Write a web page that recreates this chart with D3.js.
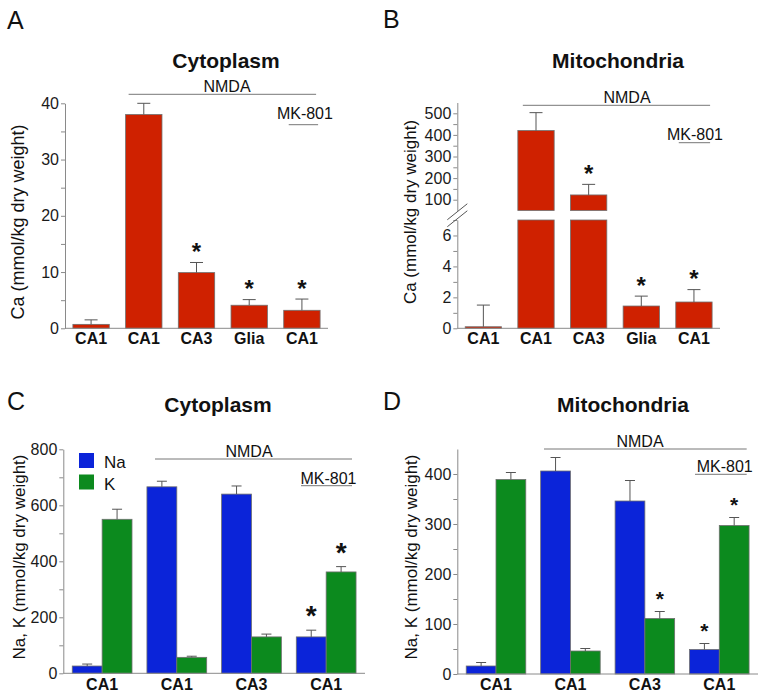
<!DOCTYPE html>
<html>
<head>
<meta charset="utf-8">
<script src="https://cdn.jsdelivr.net/npm/d3@7"></script>
<style>
  body { margin: 0; background: #fff; }
  svg { display: block; font-family: "Liberation Sans", Arial, Helvetica, sans-serif; }
  .axis path, .axis line { stroke: #8a8a8a; }
  .axis text { font-size: 16px; fill: #1a1a1a; }
</style>
</head>
<body>
<div id="chart"></div>
<script>
"use strict";

///////////////////////////////////
// data
///////////////////////////////////

const caRegions = ["CA1", "CA1", "CA3", "Glia", "CA1"];
const cytoCa = [0.7, 38.0, 9.9, 4.1, 3.2];
const cytoCaErr = [0.8, 2.0, 1.8, 1.0, 2.0];
const cytoCaSig = [0, 0, 1, 1, 1];
const mitoCa = [0.1, 420, 122, 1.44, 1.7];
const mitoCaErr = [1.4, 83, 49, 0.64, 0.8];
const mitoCaSig = [0, 0, 1, 1, 1];

const ionRegions = ["CA1", "CA1", "CA3", "CA1"];
const ions = ["Na", "K"];
const cytoNa = [26, 666, 640, 130];
const cytoNaErr = [7, 20, 29, 24];
const cytoK = [550, 57, 130, 362];
const cytoKErr = [36, 4, 10, 19];
const cytoNaSig = [0, 0, 0, 1];
const cytoKSig = [0, 0, 0, 1];
const mitoNa = [16, 406, 346, 49];
const mitoNaErr = [7, 27, 41, 12];
const mitoK = [389, 46, 111, 297];
const mitoKErr = [14, 5, 14, 16];
const mitoNaSig = [0, 0, 0, 1];
const mitoKSig = [0, 0, 1, 1];

const cytoCaTicks = [0, 10, 20, 30, 40];
const cytoCaMinor = [5, 15, 25, 35];
const mitoCaLowTicks = [0, 2, 4, 6];
const mitoCaLowMinor = [1, 3, 5, 7];
const mitoCaHighTicks = [100, 200, 300, 400, 500];
const mitoCaHighMinor = [150, 250, 350, 450];
const cytoIonTicks = [0, 200, 400, 600, 800];
const cytoIonMinor = [100, 300, 500, 700];
const mitoIonTicks = [0, 100, 200, 300, 400];
const mitoIonMinor = [50, 150, 250, 350];

const colors = { Ca: "#cf2100", Na: "#0b24d9", K: "#0c8a1e" };

///////////////////////////////////
// svg
///////////////////////////////////

const svg = d3
  .select("#chart")
  .append("svg")
  .attr("width", 765)
  .attr("height", 700);

const addText = (txt, x, y, size, opts = {}) =>
  svg
    .append("text")
    .attr("x", x)
    .attr("y", y)
    .attr("font-size", size)
    .attr("font-weight", opts.bold ? "bold" : "normal")
    .attr("text-anchor", opts.anchor || "middle")
    .attr("fill", "#111")
    .text(txt);

const addLine = (x1, x2, y) =>
  svg
    .append("line")
    .attr("x1", x1)
    .attr("x2", x2)
    .attr("y1", y)
    .attr("y2", y)
    .attr("stroke", "#777")
    .attr("stroke-width", 1);

const yAxis = (scale, x, major, minor) => {
  svg
    .append("g")
    .attr("class", "axis")
    .attr("transform", `translate(${x},0)`)
    .call(
      d3
        .axisLeft(scale)
        .tickValues(major)
        .tickFormat(d3.format("d"))
        .tickSize(4)
        .tickPadding(2)
        .tickSizeOuter(0)
    );
  svg
    .append("g")
    .attr("class", "axis")
    .attr("transform", `translate(${x},0)`)
    .call(d3.axisLeft(scale).tickValues(minor).tickSize(4).tickFormat(""))
    .select(".domain")
    .remove();
};

const yLabel = (txt, x, y, size) =>
  svg
    .append("text")
    .attr("transform", `translate(${x},${y}) rotate(-90)`)
    .attr("dy", "0.35em")
    .attr("text-anchor", "middle")
    .attr("font-size", size)
    .attr("fill", "#111")
    .text(txt);

const errBar = (cx, y0, y1, cap) => {
  svg
    .append("path")
    .attr("d", `M${cx},${y0}V${y1}M${cx - cap},${y1}H${cx + cap}`)
    .attr("stroke", "#555")
    .attr("stroke-width", 1)
    .attr("fill", "none");
};

// one bar with upward error bar and optional star
const bar = (x, w, yScale, base, value, err, color, sig, cap, star) => {
  svg
    .append("rect")
    .attr("x", x)
    .attr("y", yScale(value))
    .attr("width", w)
    .attr("height", base - yScale(value))
    .attr("fill", color)
    .attr("stroke", "#6f6f6f")
    .attr("stroke-width", 0.8);
  errBar(x + w / 2, yScale(value), yScale(value + err), cap);
  if (sig) {
    addText("*", x + w / 2, yScale(value + err) - star.gap + star.size * 0.57, star.size, {
      bold: true,
    });
  }
};

const xBase = (x0, x1, y) =>
  svg
    .append("line")
    .attr("x1", x0)
    .attr("x2", x1)
    .attr("y1", y)
    .attr("y2", y)
    .attr("stroke", "#8a8a8a");

///////////////////////////////////
// A: cytoplasm Ca
///////////////////////////////////

{
  const x = d3.scaleBand().domain(d3.range(caRegions.length)).range([65, 328])
    .paddingInner(0.31).paddingOuter(0.15);
  const y = d3.scaleLinear().domain([0, 40]).range([328.3, 103.3]);
  const bw = x.bandwidth();

  addText("A", 7, 29, 25, { anchor: "start" });
  addText("Cytoplasm", 226, 68, 21, { bold: true });

  cytoCa.forEach((v, i) =>
    bar(x(i), bw, y, y(0), v, cytoCaErr[i], colors.Ca, cytoCaSig[i], 6.5, { size: 24, gap: 16 })
  );
  yAxis(y, 65, cytoCaTicks, cytoCaMinor);
  xBase(65, 328, y(0));

  caRegions.forEach((r, i) => addText(r, x(i) + bw / 2, 344, 16, { bold: true }));
  yLabel("Ca (mmol/kg dry weight)", 17.5, 222, 18);

  addLine(x(1) + 3, x(4) + bw - 4, 94.3);
  addText("NMDA", 227, 92.3, 16);
  addText("MK-801", x(4) + bw / 2 + 3, 119, 16);
  addLine(x(4) + 5, x(4) + bw - 2, 124.7);
}

///////////////////////////////////
// B: mitochondria Ca (broken axis)
///////////////////////////////////

{
  const x = d3.scaleBand().domain(d3.range(caRegions.length)).range([457.3, 720])
    .paddingInner(0.31).paddingOuter(0.15);
  const yLow = d3.scaleLinear().domain([0, 7]).range([328.3, 220]);
  const yHigh = d3.scaleLinear().domain([50, 550]).range([210.5, 102.5]);
  const bw = x.bandwidth();
  const limit = 7;

  addText("B", 383, 28, 25, { anchor: "start" });
  addText("Mitochondria", 618, 68, 21, { bold: true });

  mitoCa.forEach((v, i) => {
    const star = { size: 24, gap: 16 };
    if (v <= limit) {
      bar(x(i), bw, yLow, yLow(0), v, mitoCaErr[i], colors.Ca, mitoCaSig[i], 6.5, star);
    } else {
      // lower piece up to the break, upper piece drawn on the high scale
      svg.append("rect")
        .attr("x", x(i)).attr("y", yLow(limit))
        .attr("width", bw).attr("height", yLow(0) - yLow(limit))
        .attr("fill", colors.Ca).attr("stroke", "#6f6f6f").attr("stroke-width", 0.8);
      bar(x(i), bw, yHigh, yHigh(50), v, mitoCaErr[i], colors.Ca, mitoCaSig[i], 6.5, star);
    }
  });

  yAxis(yLow, 457.3, mitoCaLowTicks, mitoCaLowMinor);
  yAxis(yHigh, 457.3, mitoCaHighTicks, mitoCaHighMinor);
  xBase(457.3, 720, yLow(0));

  // break marks
  const bx = 457.3;
  const by = (yHigh(50) + yLow(limit)) / 2;
  [-3.5, 3.5].forEach((o) =>
    svg.append("line")
      .attr("x1", bx - 10).attr("y1", by + o + 8)
      .attr("x2", bx + 10).attr("y2", by + o - 8)
      .attr("stroke", "#555").attr("stroke-width", 1)
  );

  caRegions.forEach((r, i) => addText(r, x(i) + bw / 2, 344, 16, { bold: true }));
  yLabel("Ca (mmol/kg dry weight)", 410.3, 212, 17);

  addLine(x(1) + 5, x(4) + bw - 2, 105.3);
  addText("NMDA", 627, 103, 16);
  addText("MK-801", x(4) + bw / 2 + 1, 140, 16);
  addLine(x(4) + 3, x(4) + bw - 2, 142.7);
}

///////////////////////////////////
// C / D: Na and K
///////////////////////////////////

const ionPanel = (cfg) => {
  const x = d3.scaleBand().domain(d3.range(ionRegions.length)).range([cfg.x0, cfg.x1])
    .paddingInner(0.2).paddingOuter(0.12);
  const sub = d3.scaleBand().domain(ions).range([0, x.bandwidth()]);
  const y = d3.scaleLinear().domain(cfg.domain).range([cfg.base, cfg.top]);
  const bw = sub.bandwidth();

  addText(cfg.letter, cfg.letterX, 410, 25, { anchor: "start" });
  addText(cfg.title, cfg.titleX, 412, 21, { bold: true });

  ionRegions.forEach((r, i) => {
    bar(x(i) + sub("Na"), bw, y, y(0), cfg.na[i], cfg.naErr[i], colors.Na, cfg.naSig[i], 5, cfg.star);
    bar(x(i) + sub("K"), bw, y, y(0), cfg.k[i], cfg.kErr[i], colors.K, cfg.kSig[i], 5, cfg.star);
  });

  yAxis(y, cfg.x0, cfg.ticks, cfg.minor);
  xBase(cfg.x0, cfg.x1, y(0));

  ionRegions.forEach((r, i) =>
    addText(r, x(i) + x.bandwidth() / 2, 690, 16, { bold: true })
  );
  yLabel("Na, K (mmol/kg dry weight)", cfg.labelX, 557, 17);

  addLine(cfg.nmda[0], cfg.nmda[1], cfg.nmda[2]);
  addText("NMDA", cfg.nmda[3], cfg.nmda[2] - 2.3, 16);
  addText("MK-801", cfg.mk[3], cfg.mk[4], 16);
  addLine(cfg.mk[0], cfg.mk[1], cfg.mk[2]);
};

ionPanel({
  letter: "C", letterX: 7, title: "Cytoplasm", titleX: 218,
  x0: 63.3, x1: 365, domain: [0, 800], base: 673.3, top: 449.3,
  ticks: cytoIonTicks, minor: cytoIonMinor,
  na: cytoNa, naErr: cytoNaErr, naSig: cytoNaSig,
  k: cytoK, kErr: cytoKErr, kSig: cytoKSig,
  star: { size: 28, gap: 21 }, labelX: 19,
  nmda: [155, 352, 459, 249],
  mk: [301, 352, 485.7, 328.5, 484],
});

ionPanel({
  letter: "D", letterX: 383, title: "Mitochondria", titleX: 623,
  x0: 457.3, x1: 758, domain: [0, 450], base: 674, top: 449,
  ticks: mitoIonTicks, minor: mitoIonMinor,
  na: mitoNa, naErr: mitoNaErr, naSig: mitoNaSig,
  k: mitoK, kErr: mitoKErr, kSig: mitoKSig,
  star: { size: 21, gap: 17 }, labelX: 411,
  nmda: [544, 746.7, 449, 640],
  mk: [695, 746.7, 474.3, 724.7, 471.7],
});

///////////////////////////////////
// legend (panel C)
///////////////////////////////////

ions.forEach((ion, i) => {
  svg.append("rect")
    .attr("x", 79).attr("y", 453 + i * 21.5)
    .attr("width", 15).attr("height", 15)
    .attr("fill", colors[ion]);
  addText(ion, 104, 468 + i * 21.5, 17, { anchor: "start" });
});
</script>
</body>
</html>
